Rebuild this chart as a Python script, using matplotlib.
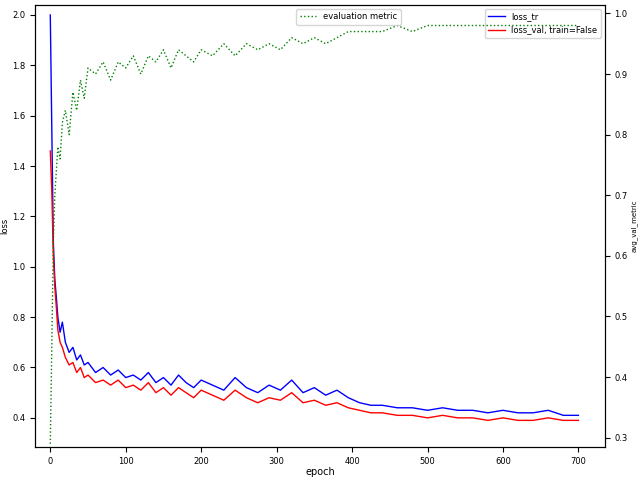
import matplotlib.pyplot as plt
import numpy as np

epochs = [0, 2, 4, 6, 8, 10, 13, 16, 20, 25, 30, 35, 40, 45, 50, 60, 70, 80, 90, 100,
          110, 120, 130, 140, 150, 160, 170, 180, 190, 200, 215, 230, 245, 260, 275, 290,
          305, 320, 335, 350, 365, 380, 395, 410, 425, 440, 460, 480, 500, 520, 540, 560,
          580, 600, 620, 640, 660, 680, 700]
loss_tr = [2.00, 1.55, 1.10, 0.95, 0.88, 0.80, 0.74, 0.78, 0.70, 0.66, 0.68, 0.63, 0.65, 0.61, 0.62, 0.58, 0.60, 0.57, 0.59, 0.56,
           0.57, 0.55, 0.58, 0.54, 0.56, 0.53, 0.57, 0.54, 0.52, 0.55, 0.53, 0.51, 0.56, 0.52, 0.50, 0.53,
           0.51, 0.55, 0.50, 0.52, 0.49, 0.51, 0.48, 0.46, 0.45, 0.45, 0.44, 0.44, 0.43, 0.44, 0.43, 0.43,
           0.42, 0.43, 0.42, 0.42, 0.43, 0.41, 0.41]
loss_val = [1.46, 1.30, 1.05, 0.92, 0.84, 0.75, 0.70, 0.68, 0.64, 0.61, 0.62, 0.58, 0.60, 0.56, 0.57, 0.54, 0.55, 0.53, 0.55, 0.52,
            0.53, 0.51, 0.54, 0.50, 0.52, 0.49, 0.52, 0.50, 0.48, 0.51, 0.49, 0.47, 0.51, 0.48, 0.46, 0.48,
            0.47, 0.50, 0.46, 0.47, 0.45, 0.46, 0.44, 0.43, 0.42, 0.42, 0.41, 0.41, 0.40, 0.41, 0.40, 0.40,
            0.39, 0.40, 0.39, 0.39, 0.40, 0.39, 0.39]
metric = [0.29, 0.45, 0.62, 0.70, 0.74, 0.78, 0.76, 0.82, 0.84, 0.80, 0.87, 0.84, 0.89, 0.86, 0.91, 0.90, 0.92, 0.89, 0.92, 0.91,
          0.93, 0.90, 0.93, 0.92, 0.94, 0.91, 0.94, 0.93, 0.92, 0.94, 0.93, 0.95, 0.93, 0.95, 0.94, 0.95,
          0.94, 0.96, 0.95, 0.96, 0.95, 0.96, 0.97, 0.97, 0.97, 0.97, 0.98, 0.97, 0.98, 0.98, 0.98, 0.98,
          0.98, 0.98, 0.98, 0.98, 0.98, 0.98, 0.98]

fig, ax = plt.subplots(figsize=(6.4, 4.91), dpi=100)
ax.plot(epochs, loss_tr, color='blue', lw=1, label='loss_tr')
ax.plot(epochs, loss_val, color='red', lw=1, label='loss_val, train=False')
ax.set_xlim(-20, 735)
ax.set_ylim(0.285, 2.04)
ax.set_yticks([0.4, 0.6, 0.8, 1.0, 1.2, 1.4, 1.6, 1.8, 2.0])
ax.set_xlabel('epoch', fontsize=7, labelpad=1)
ax.set_ylabel('loss', fontsize=6, labelpad=2)
ax.tick_params(labelsize=6)
ax.legend(loc='upper right', fontsize=6)

ax2 = ax.twinx()
ax2.plot(epochs, metric, color='green', lw=1, ls=':', label='evaluation metric')
ax2.set_ylim(0.285, 1.014)
ax2.set_ylabel('avg_val_metric', fontsize=5, labelpad=2)
ax2.tick_params(labelsize=6)
ax2.legend(loc='upper center', bbox_to_anchor=(0.55, 1.0), fontsize=6)

fig.subplots_adjust(left=0.055, right=0.945, top=0.99, bottom=0.09)
fig.savefig('out.png')
